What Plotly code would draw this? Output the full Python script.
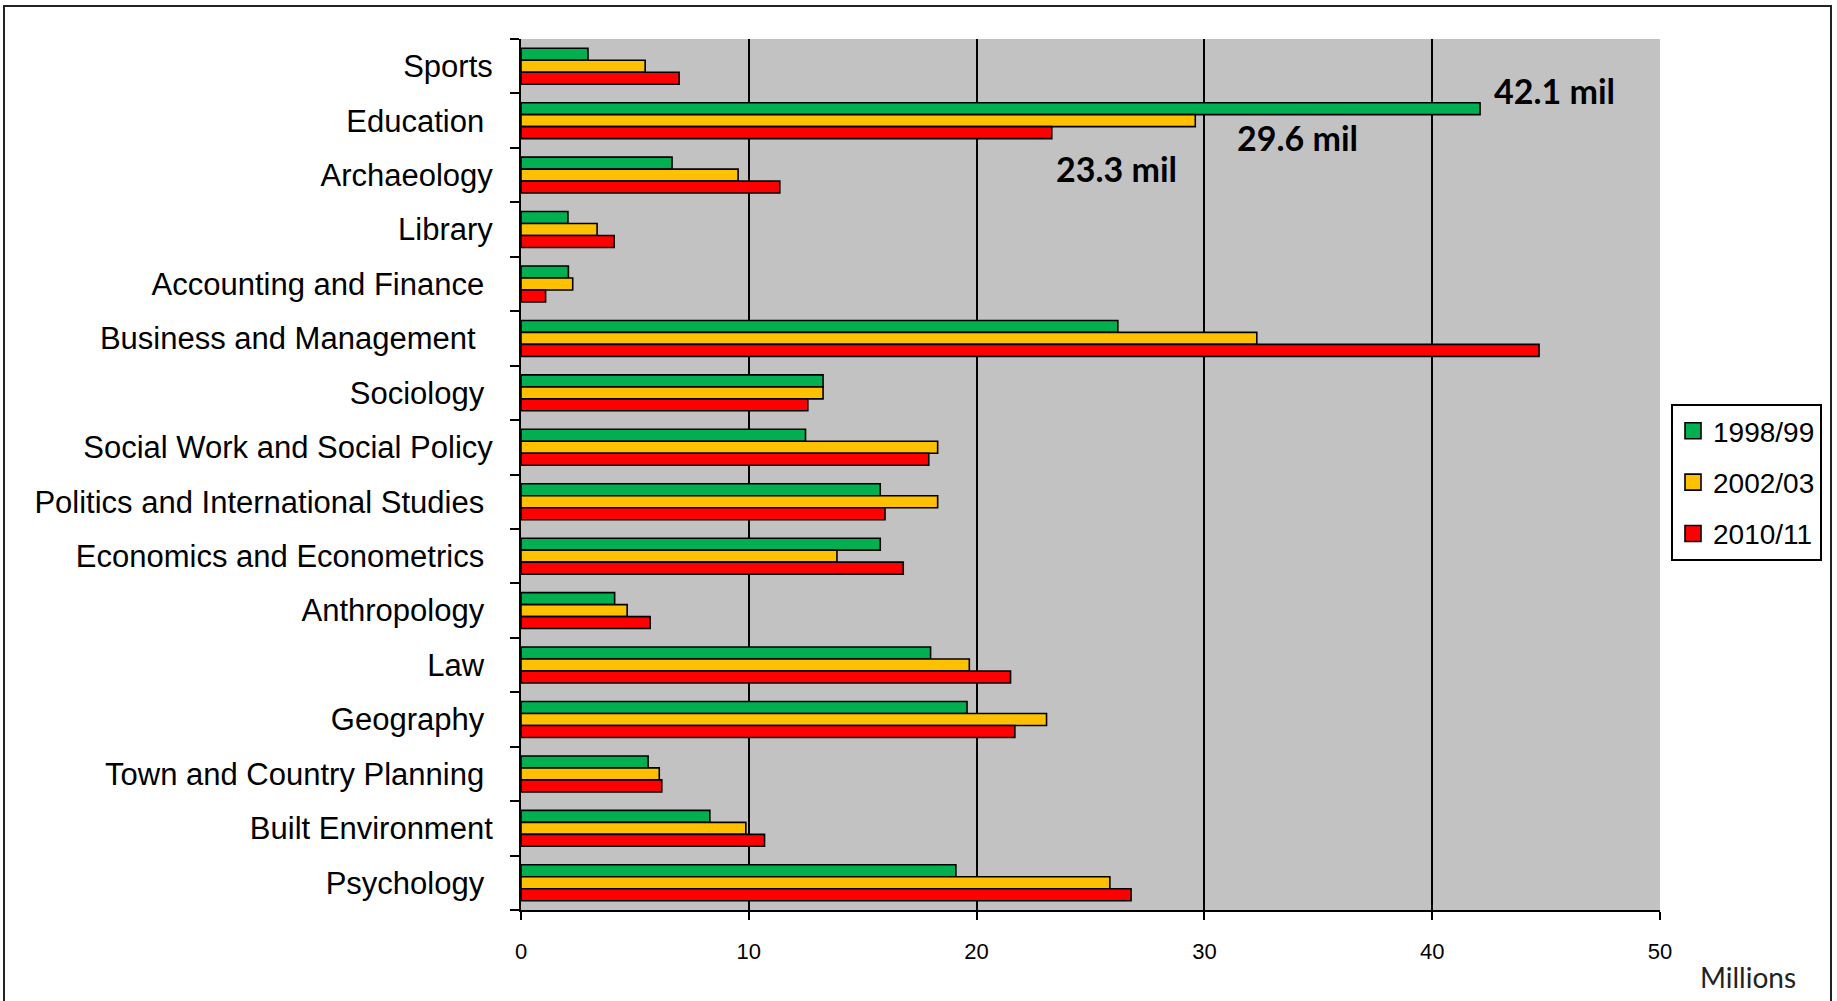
import plotly.graph_objects as go

categories = ["Sports", "Education", "Archaeology", "Library", "Accounting and Finance",
              "Business and Management", "Sociology", "Social Work and Social Policy",
              "Politics and International Studies", "Economics and Econometrics",
              "Anthropology", "Law", "Geography", "Town and Country Planning",
              "Built Environment", "Psychology"]
# trailing spaces as in the original labels
label_pad = [0, 1, 0, 0, 1, 2, 1, 0, 1, 1, 1, 1, 1, 1, 0, 1]

series_names = ["1998/99", "2002/03", "2010/11"]
v1998 = [2.94, 42.1, 6.63, 2.06, 2.08, 26.2, 13.26, 12.49, 15.77, 15.77, 4.11, 17.98, 19.58, 5.58, 8.29, 19.09]
v2002 = [5.45, 29.6, 9.53, 3.34, 2.27, 32.3, 13.26, 18.29, 18.29, 13.87, 4.66, 19.68, 23.07, 6.07, 9.87, 25.85]
v2010 = [6.94, 23.3, 11.36, 4.09, 1.08, 44.69, 12.59, 17.9, 15.98, 16.78, 5.67, 21.49, 21.68, 6.18, 10.69, 26.78]
colors = ["#00b050", "#ffc000", "#ff0000"]

x_ticks = [0, 10, 20, 30, 40, 50]
callouts = [("42.1 mil", 42.1), ("29.6 mil", 29.6), ("23.3 mil", 23.3)]

W, H = 1837, 1001
L, R, T, B = 521, 1660, 39, 910
PW, PH = R - L, B - T


def px_x(p):
    return (p - L) / PW


def px_y(p):
    return (B - p) / PH


fig = go.Figure()
for name, vals, col in zip(series_names, [v1998, v2002, v2010], colors):
    fig.add_trace(go.Bar(
        y=categories, x=vals, name=name, orientation="h",
        marker=dict(color=col, line=dict(color="#000000", width=1.6)),
        legendgroup=name, showlegend=False,
    ))
# legend entries with square keys
for name, col in zip(series_names, colors):
    fig.add_trace(go.Scatter(
        x=[None], y=[None], mode="markers", name=name,
        marker=dict(symbol="square", size=16, color=col, line=dict(color="#000000", width=1.6)),
        legendgroup=name, showlegend=True,
    ))

ticktext = [c + "\u00a0" * n for c, n in zip(categories, label_pad)]

fig.update_layout(
    width=W, height=H,
    margin=dict(l=L, r=W - R, t=T, b=H - B, pad=0),
    paper_bgcolor="#ffffff",
    plot_bgcolor="#c2c2c2",
    barmode="group", bargap=0.34, bargroupgap=0,
    font=dict(family="Liberation Sans, Arial, sans-serif", color="#000000"),
    showlegend=True,
    legend=dict(
        x=px_x(1671), y=px_y(404), xanchor="left", yanchor="top",
        bgcolor="#ffffff", bordercolor="#000000", borderwidth=2,
        font=dict(size=28, family="Liberation Sans, Arial, sans-serif", color="#000000"),
        traceorder="grouped", tracegroupgap=12, itemwidth=30,
    ),
    xaxis=dict(
        range=[0, 50], tickvals=x_ticks, ticktext=[str(t) for t in x_ticks],
        showgrid=True, gridcolor="#000000", gridwidth=1.5,
        showline=True, linecolor="#000000", linewidth=2,
        ticks="outside", ticklen=8, tickcolor="#000000", tickwidth=1.5,
        tickfont=dict(size=22, color="#000000"),
        ticklabelstandoff=13,
        zeroline=False, fixedrange=True,
    ),
    yaxis=dict(
        categoryorder="array", categoryarray=categories,
        tickvals=categories, ticktext=ticktext,
        autorange="reversed",
        showgrid=False, showline=True, linecolor="#000000", linewidth=2,
        ticks="outside", tickson="boundaries", ticklen=9, tickcolor="#000000", tickwidth=1.5,
        tickfont=dict(size=31, color="#000000"),
        ticklabelstandoff=20,
        zeroline=False,
    ),
)

# callout labels on the Education bars
callout_pos = [(1554, 91), (1297, 137), (1116, 168)]
for (txt, _v), (cx, cy) in zip(callouts, callout_pos):
    fig.add_annotation(
        x=px_x(cx), y=px_y(cy), xref="paper", yref="paper",
        text="<b>" + txt + "</b>", showarrow=False,
        font=dict(size=34, family="Lato, Open Sans, sans-serif", color="#000000"),
        xanchor="center", yanchor="middle",
    )

fig.add_annotation(
    x=px_x(1748), y=px_y(977), xref="paper", yref="paper",
    text="Millions", showarrow=False,
    font=dict(size=28, family="Lato, Open Sans, sans-serif", color="#222222"),
    xanchor="center", yanchor="middle",
)

# outer chart border
fig.add_shape(
    type="rect", xref="paper", yref="paper",
    x0=px_x(4), x1=px_x(1831), y0=px_y(1010), y1=px_y(6),
    line=dict(color="#222222", width=2), fillcolor="rgba(0,0,0,0)", layer="below",
)

fig.write_html("out.html")
